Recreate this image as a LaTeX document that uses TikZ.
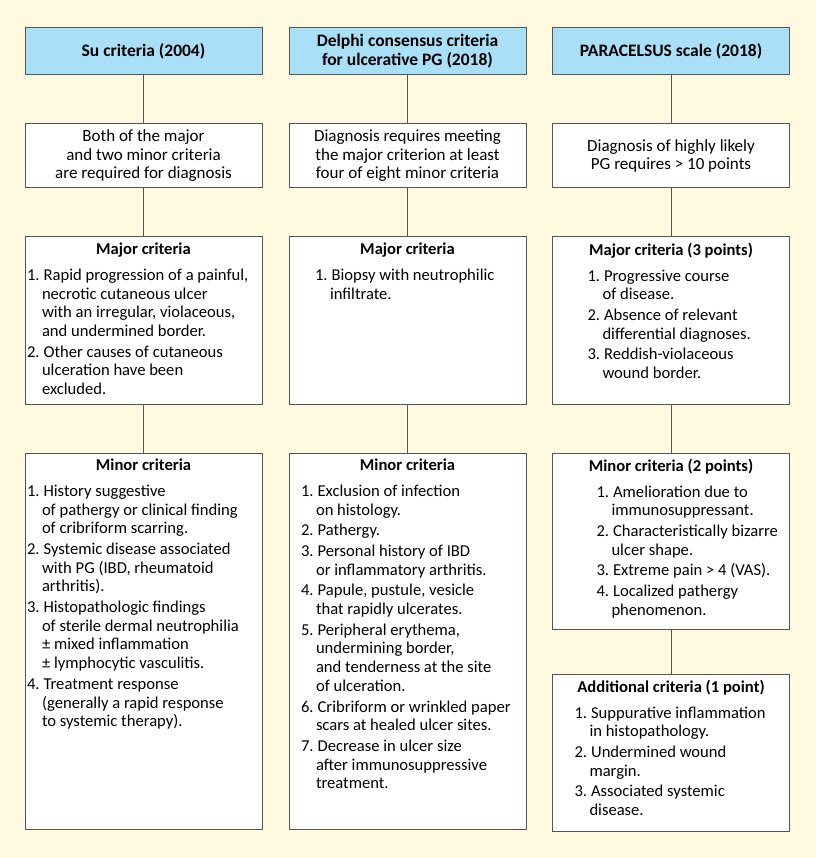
\documentclass[tikz,border=0pt]{standalone}
\usepackage{fontspec}
\setmainfont{Carlito}
\usepackage{enumitem}
\usepackage{xcolor}
\usetikzlibrary{positioning}

\definecolor{paper}{HTML}{FFF9DF}
\definecolor{headblue}{HTML}{A9E0F7}
\definecolor{edge}{HTML}{555555}

% panel body: height, list indent, title, items
\newcommand{\critpanel}[4]{%
  \parbox[t][#1][t]{233pt}{%
    {\centering\textbf{#3}\par}\vspace{7pt}%
    \raggedright
    \begin{enumerate}[label=\arabic*., align=left, labelwidth=11pt,
      labelsep=4pt, leftmargin=\dimexpr#2+15pt\relax, topsep=0pt,
      partopsep=0pt, parsep=0pt, itemsep=2pt]
    #4
    \end{enumerate}}}

\begin{document}
\begin{tikzpicture}[
  x=1pt, y=-1pt,
  font=\fontsize{16.6}{18.7}\selectfont,
  head/.style={draw=edge, line width=1pt, fill=headblue, font=\fontsize{17.5}{19}\selectfont\bfseries,
    minimum width=237pt, minimum height=47pt, align=center, inner sep=2pt},
  rule/.style={draw=edge, line width=1pt, fill=white, font=\fontsize{17}{18.5}\selectfont,
    minimum width=237pt, minimum height=64pt, align=center, inner sep=2pt},
  crit/.style={draw=edge, line width=1pt, fill=white, inner xsep=2pt, inner ysep=6pt},
  link/.style={draw=edge, line width=1pt},
]
\fill[paper] (0,0) rectangle (815,858);

% Headers
\node[head] (hsu) at (143.5,51.5) {Su criteria (2004)};
\node[head] (hdel) at (407.5,51.5) {Delphi consensus criteria\\for ulcerative PG (2018)};
\node[head] (hpar) at (671,51.5) {PARACELSUS scale (2018)};

% Diagnosis rules
\node[rule, below=48pt of hsu] (rsu)
  {Both of the major\\and two minor criteria\\are required for diagnosis};
\node[rule, below=48pt of hdel] (rdel)
  {Diagnosis requires meeting\\the major criterion at least\\four of eight minor criteria};
\node[rule, below=48pt of hpar] (rpar)
  {Diagnosis of highly likely\\PG requires > 10 points};

% Major criteria
\node[crit, below=48pt of rsu] (msu) {\critpanel{155pt}{0pt}{Major criteria}{%
  \item Rapid progression of a painful,\\necrotic cutaneous ulcer\\with an irregular, violaceous,\\and undermined border.
  \item Other causes of cutaneous\\ulceration have been\\excluded.}};
\node[crit, below=48pt of rdel] (mdel) {\critpanel{155pt}{24pt}{Major criteria}{%
  \item Biopsy with neutrophilic\\infiltrate.}};
\node[crit, below=48pt of rpar] (mpar) {\critpanel{155pt}{33pt}{Major criteria (3 points)}{%
  \item Progressive course\\of disease.
  \item Absence of relevant\\differential diagnoses.
  \item Reddish-violaceous\\wound border.}};

% Minor criteria
\node[crit, below=48pt of msu] (nsu) {\critpanel{364pt}{0pt}{Minor criteria}{%
  \item History suggestive\\of pathergy or clinical finding\\of cribriform scarring.
  \item Systemic disease associated\\with PG (IBD, rheumatoid\\arthritis).
  \item Histopathologic findings\\of sterile dermal neutrophilia\\± mixed inflammation\\± lymphocytic vasculitis.
  \item Treatment response\\(generally a rapid response\\to systemic therapy).}};
\node[crit, below=48pt of mdel] (ndel) {\critpanel{364pt}{10pt}{Minor criteria}{%
  \item Exclusion of infection\\on histology.
  \item Pathergy.
  \item Personal history of IBD\\or inflammatory arthritis.
  \item Papule, pustule, vesicle\\that rapidly ulcerates.
  \item Peripheral erythema,\\undermining border,\\and tenderness at the site\\of ulceration.
  \item Cribriform or wrinkled paper\\scars at healed ulcer sites.
  \item Decrease in ulcer size\\after immunosuppressive\\treatment.}};
\node[crit, below=48pt of mpar] (npar) {\critpanel{164pt}{42pt}{Minor criteria (2 points)}{%
  \item Amelioration due to\\immunosuppressant.
  \item Characteristically bizarre\\ulcer shape.
  \item Extreme pain > 4 (VAS).
  \item Localized pathergy\\phenomenon.}};

% Additional criteria
\node[crit, below=44pt of npar] (apar) {\critpanel{145pt}{20pt}{Additional criteria (1 point)}{%
  \item Suppurative inflammation\\in histopathology.
  \item Undermined wound\\margin.
  \item Associated systemic\\disease.}};

% Connectors
\draw[link] (hsu) -- (rsu) (rsu) -- (msu) (msu) -- (nsu);
\draw[link] (hdel) -- (rdel) (rdel) -- (mdel) (mdel) -- (ndel);
\draw[link] (hpar) -- (rpar) (rpar) -- (mpar) (mpar) -- (npar) (npar) -- (apar);
\end{tikzpicture}
\end{document}
